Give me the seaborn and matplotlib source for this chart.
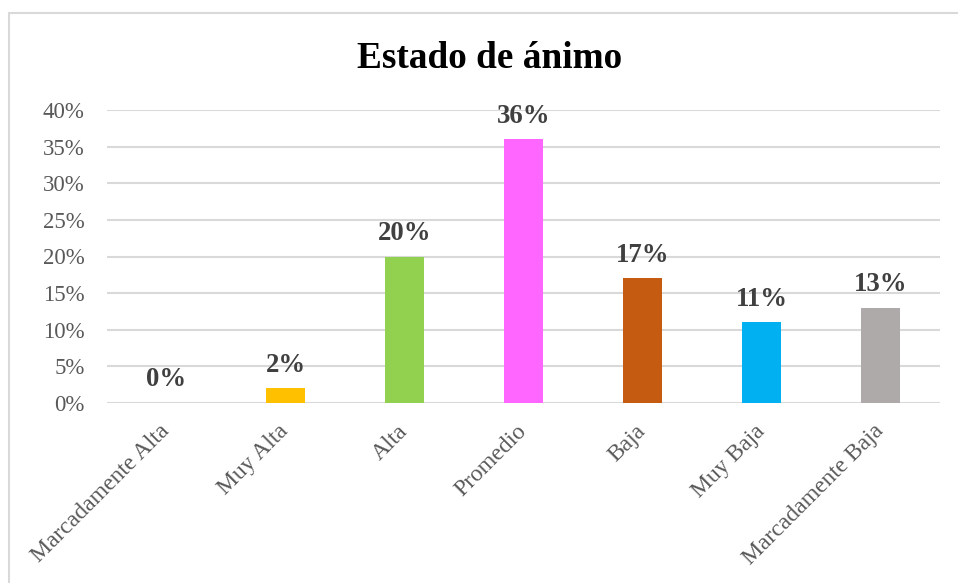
import matplotlib
matplotlib.use("Agg")
import matplotlib.pyplot as plt
import matplotlib.ticker as mticker
from matplotlib.lines import Line2D
import seaborn as sns
import pandas as pd

categories = ["Marcadamente Alta", "Muy Alta", "Alta", "Promedio", "Baja", "Muy Baja", "Marcadamente Baja"]
values = [0, 2, 20, 36, 17, 11, 13]
colors = ["#4472C4", "#FFC000", "#92D050", "#FF66FF", "#C55A11", "#00B0F0", "#AEAAAA"]
yticks = [0, 5, 10, 15, 20, 25, 30, 35, 40]
title = "Estado de ánimo"

sns.set_theme(style="white")
plt.rcParams["font.family"] = ["Liberation Serif", "DejaVu Serif"]

df = pd.DataFrame({"cat": categories, "val": values})

W, H = 958, 583
fig = plt.figure(figsize=(W / 100, H / 100), dpi=100)
ax = fig.add_axes([107 / W, 1 - 403 / H, (940 - 107) / W, (403 - 110) / H])

sns.barplot(data=df, x="cat", y="val", hue="cat", palette=colors, legend=False,
            width=0.32, ax=ax, saturation=1, linewidth=0)

ax.set_ylim(0, 40)
ax.set_xlim(-0.5, len(categories) - 0.5)
ax.set_yticks(yticks)
ax.yaxis.set_major_formatter(mticker.FuncFormatter(lambda v, p: f"{int(v)}%"))
ax.set_xlabel("")
ax.set_ylabel("")
for s in ax.spines.values():
    s.set_visible(False)
ax.yaxis.grid(True, color="#D9D9D9", linewidth=1.5)
ax.set_axisbelow(True)
ax.tick_params(axis="y", length=0, pad=16, labelsize=16.5, labelcolor="#595959")
ax.tick_params(axis="x", length=0, pad=18, labelsize=17, labelcolor="#595959")
for lab in ax.get_xticklabels():
    lab.set_rotation(45)
    lab.set_ha("right")
    lab.set_va("center")
    lab.set_rotation_mode("anchor")

for i, v in enumerate(values):
    ax.annotate(f"{v}%", xy=(i, v), xytext=(0, 12), textcoords="offset points",
                ha="center", va="baseline", fontsize=19.3, fontweight="bold", color="#404040")

fig.text(490 / W, 1 - 58 / H, title, ha="center", va="center", fontsize=26.8,
         fontweight="bold", color="black")

fig.add_artist(Line2D([9 / W, 1], [1 - 13 / H, 1 - 13 / H], transform=fig.transFigure,
                      color="#D9D9D9", linewidth=1.5))
fig.add_artist(Line2D([9 / W, 9 / W], [0, 1 - 13 / H], transform=fig.transFigure,
                      color="#D9D9D9", linewidth=1.5))

fig.savefig("out.png", dpi=100, facecolor="white")
